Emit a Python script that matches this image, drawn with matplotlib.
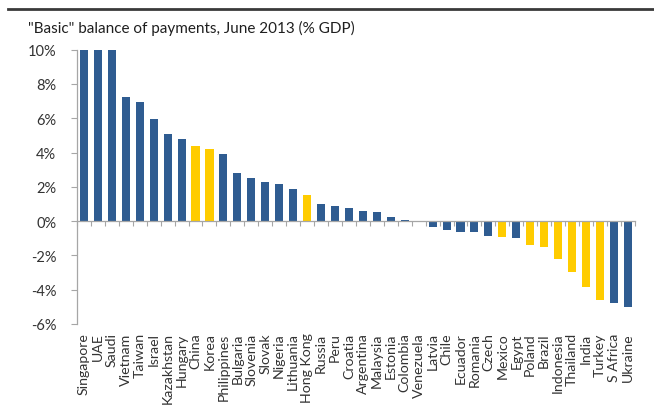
import numpy as np
import matplotlib
matplotlib.use("Agg")
import matplotlib.pyplot as plt
from matplotlib import transforms

plt.rcParams["font.family"] = ["Lato", "DejaVu Sans"]

# "Basic" balance of payments by country, % of GDP (June 2013)
countries = ["Singapore", "UAE", "Saudi", "Vietnam", "Taiwan", "Israel", "Kazakhstan",
             "Hungary", "China", "Korea", "Philippines", "Bulgaria", "Slovenia", "Slovak",
             "Nigeria", "Lithuania", "Hong Kong", "Russia", "Peru", "Croatia", "Argentina",
             "Malaysia", "Estonia", "Colombia", "Venezuela", "Latvia", "Chile", "Ecuador",
             "Romania", "Czech", "Mexico", "Egypt", "Poland", "Brazil", "Indonesia",
             "Thailand", "India", "Turkey", "S Africa", "Ukraine"]
values = [10.0, 10.0, 10.0, 7.22, 6.93, 5.96, 5.09,
          4.78, 4.37, 4.21, 3.94, 2.82, 2.49, 2.27,
          2.19, 1.90, 1.50, 1.00, 0.88, 0.74, 0.57,
          0.55, 0.24, 0.08, -0.04, -0.33, -0.50, -0.62,
          -0.62, -0.85, -0.91, -1.01, -1.42, -1.50, -2.23,
          -2.97, -3.83, -4.58, -4.78, -5.03]
highlight = {"China", "Korea", "Hong Kong", "Mexico", "Poland", "Brazil",
             "Indonesia", "Thailand", "India", "Turkey"}

BLUE = "#2F5C91"
YELLOW = "#FFCC00"
GREY = "#A6A6A6"
TEXT = "#333333"

fig = plt.figure(figsize=(6.54, 4.14), dpi=100)
ax = fig.add_axes([0.1177, 0.215, 0.853, 0.6625])

x = np.arange(len(countries))
colors = [YELLOW if c in highlight else BLUE for c in countries]
ax.bar(x, values, width=0.58, color=colors, zorder=2)

ax.set_xlim(-0.5, len(countries) - 0.5)
ax.set_ylim(-6, 10)
ax.set_yticks(np.arange(-6, 11, 2))
ax.set_yticklabels([f"{v}%" for v in range(-6, 11, 2)], fontsize=10.5, color=TEXT)
ax.tick_params(axis="y", length=4, width=0.8, color=GREY, pad=11)

# category axis sits on the zero line, ticks at category boundaries
for s in ("top", "right"):
    ax.spines[s].set_visible(False)
ax.spines["left"].set_color(GREY)
ax.spines["left"].set_linewidth(0.9)
ax.spines["bottom"].set_position(("data", 0))
ax.spines["bottom"].set_color(GREY)
ax.spines["bottom"].set_linewidth(0.9)
ax.set_xticks(np.arange(len(countries) + 1) - 0.5)
ax.set_xticklabels([])
ax.tick_params(axis="x", direction="out", length=3.5, width=0.8, color=GREY)

# country names hang below the plot area
lab_tr = transforms.offset_copy(ax.transData, fig=fig, x=0, y=-6, units="points")
for xi, name in zip(x, countries):
    ax.text(xi, -6, name, rotation=90, ha="center", va="top", fontsize=10.2,
            color=TEXT, transform=lab_tr)

fig.text(28 / 654, 1 - 28 / 414, '"Basic" balance of payments, June 2013 (% GDP)',
         fontsize=11, color="#1F1F1F", ha="left", va="center")

# rule across the top of the figure
fig.add_artist(plt.Line2D([8 / 654, 1.0], [1 - 10 / 414] * 2, color="#3A3A3A", lw=2))

fig.savefig("out.png", dpi=100)
